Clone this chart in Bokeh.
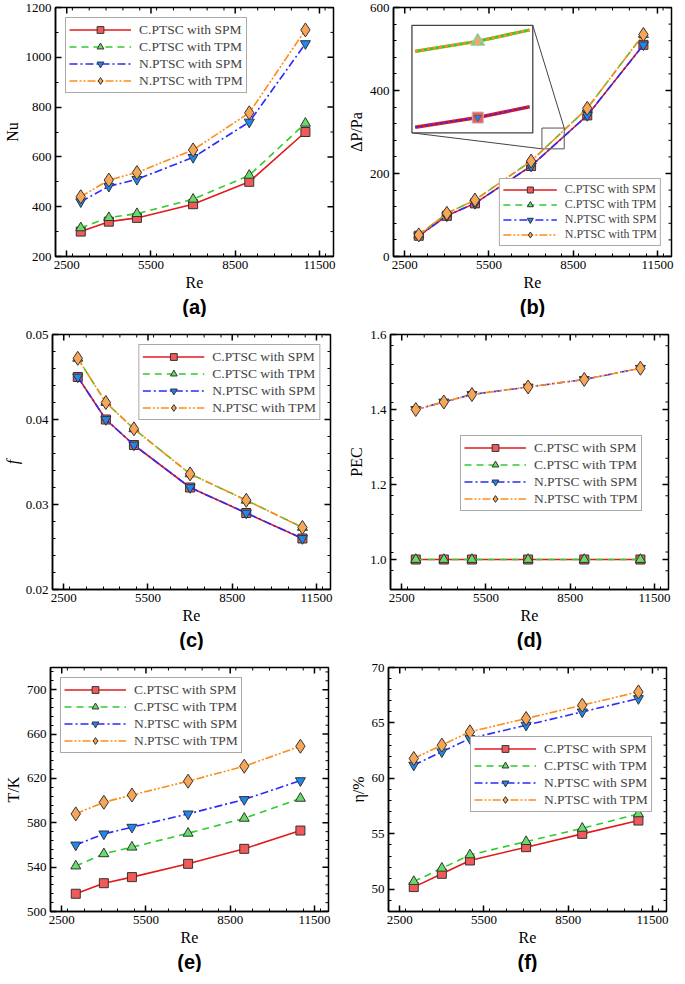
import numpy as np
from bokeh.plotting import figure
from bokeh.models import (FixedTicker, Legend, LegendItem, Range1d, PrintfTickFormatter, Title)
from bokeh.layouts import column, row
from bokeh.embed import file_html
from bokeh.resources import INLINE

# ---------------- data ----------------
re_vals = [3000, 4000, 5000, 7000, 9000, 11000]
series_names = ["C.PTSC with SPM", "C.PTSC with TPM", "N.PTSC with SPM", "N.PTSC with TPM"]
x_ticks = [2500, 5500, 8500, 11500]

nu_c_spm = [300, 340, 355, 410, 500, 700]
nu_c_tpm = [315, 356, 372, 430, 526, 735]
nu_n_spm = [420, 482, 510, 598, 740, 1055]
nu_n_tpm = [440, 507, 537, 628, 777, 1110]

dp_c_spm = [50, 98, 128, 218, 340, 510]
dp_c_tpm = [52, 104, 136, 230, 357, 535]
dp_n_spm = [50, 98, 128, 218, 340, 510]
dp_n_tpm = [52, 104, 136, 230, 357, 535]

f_c_spm = [0.0450, 0.0400, 0.0370, 0.0320, 0.0290, 0.0260]
f_c_tpm = [0.0472, 0.0420, 0.0389, 0.0336, 0.0305, 0.0273]
f_n_spm = [0.0450, 0.0400, 0.0370, 0.0320, 0.0290, 0.0260]
f_n_tpm = [0.0472, 0.0420, 0.0389, 0.0336, 0.0305, 0.0273]

pec_c_spm = [1.00, 1.00, 1.00, 1.00, 1.00, 1.00]
pec_c_tpm = [1.00, 1.00, 1.00, 1.00, 1.00, 1.00]
pec_n_spm = [1.40, 1.42, 1.44, 1.46, 1.48, 1.51]
pec_n_tpm = [1.40, 1.42, 1.44, 1.46, 1.48, 1.51]

t_c_spm = [516, 525.5, 531, 543, 556.5, 573]
t_c_tpm = [541, 552, 558, 570.5, 584, 602]
t_n_spm = [560, 570, 576, 588, 601, 618]
t_n_tpm = [588, 598.5, 605, 617.5, 631, 649]

eta_c_spm = [50.2, 51.4, 52.6, 53.8, 55.0, 56.2]
eta_c_tpm = [50.7, 51.9, 53.1, 54.3, 55.5, 56.8]
eta_n_spm = [61.2, 62.4, 63.6, 64.8, 66.0, 67.2]
eta_n_tpm = [61.8, 63.0, 64.2, 65.4, 66.6, 67.8]

# ---------------- styles ----------------
STY = [
    dict(color="#e31a1c", dash="solid", marker="square", fill="#f25a5a", size=9),
    dict(color="#2ecc2e", dash="7 5", marker="triangle", fill="#66dd66", size=10),
    dict(color="#2a2aff", dash="8 3 2 3", marker="inverted_triangle", fill="#1e88f0", size=10),
    dict(color="#ff8c1a", dash="8 2 2 2 2 2", marker="diamond", fill="#f7a556", size=14),
]
SERIF = "Liberation Serif"
XR = (2100, 12000)

COLS = [dict(fw=278, left=50, right=10), dict(fw=278, left=50, right=6)]
ROWS = [dict(fh=249, top=7), dict(fh=255, top=17), dict(fh=244, top=17)]
BOTTOM = 58


def minors(lo, hi, step, majors):
    vals = np.arange(lo, hi + step * 0.5, step)
    return [float(v) for v in vals
            if lo <= v <= hi and all(abs(v - m) > step * 1e-3 for m in majors)]


def style_axis(ax):
    ax.axis_line_width = 1.5
    ax.axis_line_color = "black"
    ax.major_tick_in = 6
    ax.major_tick_out = 0
    ax.minor_tick_in = 3
    ax.minor_tick_out = 0
    ax.major_tick_line_width = 1.5
    ax.minor_tick_line_width = 1
    ax.major_tick_line_color = "black"
    ax.minor_tick_line_color = "black"
    ax.major_label_text_font = SERIF
    ax.major_label_text_color = "black"
    ax.major_label_text_font_size = "13px"
    ax.major_label_standoff = 4
    ax.axis_label_text_font = SERIF
    ax.axis_label_text_font_size = "16px"
    ax.axis_label_text_font_style = "normal"
    ax.axis_label_text_color = "black"
    ax.axis_label_standoff = 2


def panel(ci, ri, series, yr, y_major, y_minor_step, fmt, ylabel, ylabel_italic, tag,
          legend_loc, legend_small=False, inset=None):
    c, r = COLS[ci], ROWS[ri]
    p = figure(frame_width=c["fw"], frame_height=r["fh"], x_range=Range1d(*XR),
               y_range=Range1d(*yr), output_backend="svg", toolbar_location=None,
               min_border_left=c["left"], min_border_right=c["right"],
               min_border_top=r["top"], min_border_bottom=BOTTOM)
    fw, fh = c["fw"], r["fh"]
    p.xgrid.visible = False
    p.ygrid.visible = False
    p.outline_line_color = "black"
    p.outline_line_width = 1.5
    p.background_fill_color = "white"
    p.border_fill_color = "white"

    x_min = minors(XR[0], XR[1], 600, x_ticks)
    y_min = minors(yr[0], yr[1], y_minor_step, y_major)
    p.xaxis.ticker = FixedTicker(ticks=x_ticks, minor_ticks=x_min)
    p.yaxis.ticker = FixedTicker(ticks=y_major, minor_ticks=y_min)
    p.yaxis.formatter = PrintfTickFormatter(format=fmt)
    style_axis(p.xaxis[0])
    style_axis(p.yaxis[0])
    p.xaxis.axis_label = "Re"
    p.yaxis.axis_label = ylabel
    if ylabel_italic:
        p.yaxis.axis_label_text_font_style = "italic"

    # ticks on the top and right frame edges (drawn inward like the bottom/left axes)
    dy_maj = 6.0 / fh * (yr[1] - yr[0])
    dy_min = 3.0 / fh * (yr[1] - yr[0])
    dx_maj = 6.0 / fw * (XR[1] - XR[0])
    dx_min = 3.0 / fw * (XR[1] - XR[0])
    p.segment(x0=x_ticks, x1=x_ticks, y0=[yr[1]] * len(x_ticks),
              y1=[yr[1] - dy_maj] * len(x_ticks), line_color="black", line_width=1.5)
    p.segment(x0=x_min, x1=x_min, y0=[yr[1]] * len(x_min),
              y1=[yr[1] - dy_min] * len(x_min), line_color="black", line_width=1)
    p.segment(x0=[XR[1]] * len(y_major), x1=[XR[1] - dx_maj] * len(y_major),
              y0=y_major, y1=y_major, line_color="black", line_width=1.5)
    p.segment(x0=[XR[1]] * len(y_min), x1=[XR[1] - dx_min] * len(y_min),
              y0=y_min, y1=y_min, line_color="black", line_width=1)

    items = []
    for name, ys, st in zip(series_names, series, STY):
        lr = p.line(re_vals, ys, line_color=st["color"], line_dash=st["dash"], line_width=1.6)
        mr = p.scatter(re_vals, ys, marker=st["marker"], size=st["size"],
                       fill_color=st["fill"], line_color="#333333", line_width=1)
        items.append(LegendItem(label=name, renderers=[lr, mr]))

    if inset is not None:
        inset(p, series)

    if legend_small:
        lk = dict(label_text_font_size="12px", glyph_width=54, glyph_height=15,
                  label_height=14, spacing=0, padding=3)
    else:
        lk = dict(label_text_font_size="13.5px", glyph_width=62, glyph_height=17,
                  label_height=16, spacing=0, padding=3)
    leg = Legend(items=items, location=legend_loc, label_text_font=SERIF,
                 label_standoff=8, border_line_color="#555555", border_line_width=1,
                 background_fill_color="white", background_fill_alpha=1.0, margin=10, **lk)
    p.add_layout(leg)

    p.add_layout(Title(text=tag, align="center", text_font="Liberation Sans",
                       text_font_style="bold", text_font_size="20px", text_color="black",
                       standoff=0), "below")
    return p


def inset_b(p, series):
    # inset frame (data units of the main plot) and zoom window
    bx0, bx1, by0, by1 = 2757, 7060, 298, 557
    wx0, wx1, wy0, wy1 = 6964.6, 7029.6, 215.6, 232.5
    sx0, sx1, sy0, sy1 = 7386, 8180, 259.4, 309.5
    p.quad(left=[sx0], right=[sx1], bottom=[sy0], top=[sy1], fill_alpha=0,
           line_color="#555555", line_width=1)
    p.segment(x0=[bx1, bx0], y0=[by1, by0], x1=[sx1, sx0], y1=[sy1, sy0],
              line_color="#444444", line_width=1)
    p.quad(left=[bx0], right=[bx1], bottom=[by0], top=[by1], fill_color="white",
           line_color="#444444", line_width=1.3)

    def tx(x):
        return bx0 + (np.asarray(x, float) - wx0) / (wx1 - wx0) * (bx1 - bx0)

    def ty(y):
        return by0 + (np.asarray(y, float) - wy0) / (wy1 - wy0) * (by1 - by0)

    pad = 0.027 * (wx1 - wx0)
    xs = np.array([wx0 + pad, re_vals[3], wx1 - pad])
    vals = [np.interp(xs, re_vals, s) for s in series]
    p.line(tx(xs), ty(vals[1]), line_color=STY[1]["color"], line_width=3.2)
    p.line(tx(xs), ty(vals[3]), line_color=STY[3]["color"], line_width=3.2, line_dash="3 3")
    p.line(tx(xs), ty(vals[0]), line_color=STY[0]["color"], line_width=3.6)
    p.line(tx(xs), ty(vals[2]), line_color=STY[2]["color"], line_width=1.6, line_dash="3 2")
    mx = tx([re_vals[3]])
    p.scatter(mx, ty([series[0][3]]), marker="square", size=11, fill_color=STY[0]["fill"],
              line_color="#bbbbbb", line_width=1)
    p.scatter(mx, ty([series[2][3]]), marker="inverted_triangle", size=7,
              fill_color=STY[2]["fill"], line_color="#555555", line_width=0.8)
    p.scatter(mx, ty([series[1][3]]), marker="triangle", size=14, fill_color=STY[1]["fill"],
              line_color="#bbbbbb", line_width=1)
    p.scatter(mx, ty([series[3][3]]), marker="diamond", size=10, fill_color=STY[3]["fill"],
              line_color="#bbbbbb", line_width=0.8)


pa = panel(0, 0, [nu_c_spm, nu_c_tpm, nu_n_spm, nu_n_tpm], (200, 1200),
           [200, 400, 600, 800, 1000, 1200], 100, "%d", "Nu", False, "(a)", "top_left")
pb = panel(1, 0, [dp_c_spm, dp_c_tpm, dp_n_spm, dp_n_tpm], (0, 600),
           [0, 200, 400, 600], 40, "%d", "\u0394P/Pa", False, "(b)",
           "bottom_right", legend_small=True, inset=inset_b)
pc = panel(0, 1, [f_c_spm, f_c_tpm, f_n_spm, f_n_tpm], (0.02, 0.05),
           [0.02, 0.03, 0.04, 0.05], 0.002, "%.2f", "f", True, "(c)", "top_right")
pd = panel(1, 1, [pec_c_spm, pec_c_tpm, pec_n_spm, pec_n_tpm], (0.92, 1.6),
           [1.0, 1.2, 1.4, 1.6], 0.05, "%.1f", "PEC", False, "(d)", (70, 78))
pe = panel(0, 2, [t_c_spm, t_c_tpm, t_n_spm, t_n_tpm], (500, 720),
           [500, 540, 580, 620, 660, 700], 8, "%d", "T/K", False, "(e)", "top_left")
pf = panel(1, 2, [eta_c_spm, eta_c_tpm, eta_n_spm, eta_n_tpm], (48, 70),
           [50, 55, 60, 65, 70], 1, "%d", "\u03b7/%", False, "(f)", (82, 99))

layout = column(row(pa, pb), row(pc, pd), row(pe, pf))
open("out.html", "w").write(file_html(layout, INLINE))
